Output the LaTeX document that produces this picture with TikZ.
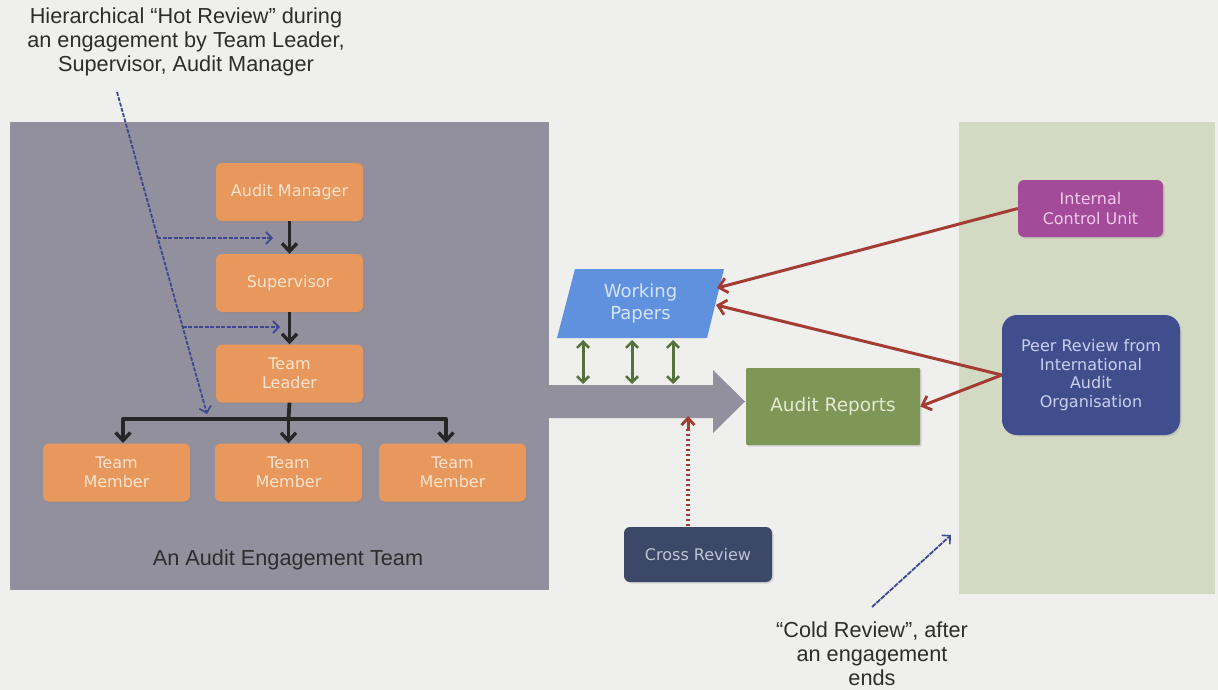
\documentclass[tikz,border=0pt]{standalone}
\usepackage{fontspec}
\setmainfont{Liberation Sans}
\newfontfamily\boxfont{DejaVu Sans}
\usetikzlibrary{arrows.meta,shadows}

\definecolor{bgcol}{RGB}{239,239,237}
\definecolor{panelgray}{RGB}{146,144,157}
\definecolor{panelgreen}{RGB}{210,218,196}
\definecolor{orangebox}{RGB}{232,152,92}
\definecolor{orangetxt}{RGB}{250,228,208}
\definecolor{wpblue}{RGB}{96,145,222}
\definecolor{wptxt}{RGB}{214,228,250}
\definecolor{argreen}{RGB}{126,150,86}
\definecolor{artxt}{RGB}{226,234,212}
\definecolor{icupurple}{RGB}{163,74,153}
\definecolor{icutxt}{RGB}{240,202,234}
\definecolor{peerblue}{RGB}{64,78,142}
\definecolor{peertxt}{RGB}{202,207,236}
\definecolor{crossnavy}{RGB}{60,72,104}
\definecolor{crosstxt}{RGB}{190,196,212}
\definecolor{reviewred}{RGB}{163,60,50}
\definecolor{hotblue}{RGB}{62,72,145}
\definecolor{linkgreen}{RGB}{86,114,60}
\definecolor{notetxt}{RGB}{45,45,45}

\tikzset{
  box/.style={rounded corners=6pt, inner sep=2pt, align=center,
    font=\boxfont\fontsize{16}{19}\selectfont,
    drop shadow={opacity=0.25, shadow xshift=1.5pt, shadow yshift=-1.5pt}},
  orangebox/.style={box, fill=orangebox, text=orangetxt,
    minimum width=147pt, minimum height=58pt},
  memberbox/.style={orangebox},
  note/.style={align=center, text=notetxt, font=\fontsize{21.7}{24}\selectfont},
  tree/.style={line width=3.8pt, draw=black!85,
    -{Straight Barb[length=8pt,width=15pt,line width=3.4pt]}},
  hot/.style={draw=hotblue, line width=1.8pt, dash pattern=on 4pt off 1.5pt,
    -{Straight Barb[length=6pt,width=12pt,line width=1.6pt]}},
  redlink/.style={draw=reviewred, line width=3pt,
    -{Straight Barb[length=8pt,width=15pt,line width=2.8pt]}},
  greenlink/.style={draw=linkgreen, line width=3pt,
    {Straight Barb[length=6pt,width=12pt,line width=2.6pt]}-{Straight Barb[length=6pt,width=12pt,line width=2.6pt]}},
}

\begin{document}
\begin{tikzpicture}[x=1pt,y=-1pt]
\useasboundingbox (0,0) rectangle (1218,690);
\fill[bgcol] (0,0) rectangle (1218,690);

% panels
\fill[panelgray] (10,122) rectangle (549,590);
\fill[panelgreen] (959,122) rectangle (1215,594);

% big flow arrow out of the team panel
\fill[panelgray] (549,385) -- (713,385) -- (713,370) -- (745,401.5)
  -- (713,433) -- (713,418) -- (549,418) -- cycle;

% engagement team hierarchy
\node[orangebox] (am) at (289.5,192) {Audit Manager};
\node[orangebox] (sup) at (289.5,283) {Supervisor};
\node[orangebox] (tl) at (289.5,373.5) {Team\\Leader};
\node[memberbox] (tm1) at (116.5,472.5) {Team\\Member};
\node[memberbox] (tm2) at (288.5,472.5) {Team\\Member};
\node[memberbox] (tm3) at (452.5,472.5) {Team\\Member};

\draw[tree] (am.south) -- (sup.north);
\draw[tree] (sup.south) -- (tl.north);
\coordinate (bar) at (288.5,419);
\draw[line width=3.8pt, draw=black!85] (tl.south) -- (bar);
\draw[line width=3.8pt, draw=black!85, line cap=round] (123,419) -- (446,419);
\draw[tree] (123,419) -- (123,443);
\draw[tree] (bar) -- (tm2.north);
\draw[tree] (446,419) -- (446,443);

\node[note] (team) at (288,560) {An Audit Engagement Team};

% hot review annotation
\node[note] (hotnote) at (186,42) {Hierarchical “Hot Review” during\\an engagement by Team Leader,\\Supervisor, Audit Manager};
\coordinate (hottop) at (117,92);
\coordinate (hotend) at (207,414);
\coordinate (hot1) at (157.3,238);
\coordinate (hot2) at (182.6,327);
\draw[hot] (hottop) -- (hotend);
\draw[hot] (hot1) -- (273,238);
\draw[hot] (hot2) -- (280,327);

% working papers and reports
\fill[wpblue] (575,269) -- (724,269) -- (707,338) -- (557,338) -- cycle;
\node[align=center, text=wptxt, font=\boxfont\fontsize{18}{21.5}\selectfont] (wp) at (640.5,303.5) {Working\\Papers};
\coordinate (wpin1) at (717,288);
\coordinate (wpin2) at (716,305);

\node[box, rounded corners=1pt, fill=argreen, text=artxt, minimum width=174pt, minimum height=77pt,
  font=\boxfont\fontsize{18.5}{22}\selectfont] (ar) at (833,406.5) {Audit Reports};

\foreach \gx in {583,632,673}
  \draw[greenlink] (\gx,340) -- (\gx,384);

% reviewers
\node[box, fill=icupurple, text=icutxt, minimum width=145pt, minimum height=57pt,
  font=\boxfont\fontsize{16}{20}\selectfont] (icu) at (1090.5,208.5) {Internal\\Control Unit};
\node[box, rounded corners=15pt, fill=peerblue, text=peertxt, minimum width=178pt, minimum height=120pt,
  font=\boxfont\fontsize{16}{18.5}\selectfont] (peer) at (1091,375) {Peer Review from\\International\\Audit\\Organisation};
\node[box, fill=crossnavy, text=crosstxt, minimum width=148pt, minimum height=55pt] (cross) at (698,554.5) {Cross Review};

\draw[redlink] (icu.west) -- (wpin1);
\draw[redlink] (peer.west) -- (wpin2);
\draw[redlink] (peer.west) -- (ar.east);
\coordinate (crossin) at (688,416);
\draw[draw=reviewred, line width=4pt, dash pattern=on 2.5pt off 2.5pt] (688,526) -- (688,428);
\draw[draw=reviewred, line width=3pt, -{Straight Barb[length=7pt,width=13pt,line width=2.8pt]}] (688,430) -- (crossin);

% cold review annotation
\node[note] (coldnote) at (872,654) {“Cold Review”, after\\an engagement\\ends};
\coordinate (coldtip) at (951,535);
\draw[draw=hotblue, line width=1.8pt, dash pattern=on 5pt off 1pt, -{Straight Barb[length=6pt,width=12pt,line width=1.6pt]}] (872,607) -- (coldtip);
\end{tikzpicture}
\end{document}
